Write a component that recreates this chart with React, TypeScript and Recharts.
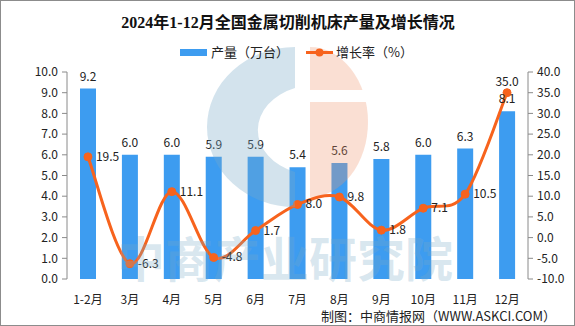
import React from "react";
import { ComposedChart, Bar, Line, XAxis, YAxis, LabelList } from "recharts";

// chart values
const months = ["1-2月", "3月", "4月", "5月", "6月", "7月", "8月", "9月", "10月", "11月", "12月"];
const output = [9.2, 6.0, 6.0, 5.9, 5.9, 5.4, 5.6, 5.8, 6.0, 6.3, 8.1];
const growth = [19.5, -6.3, 11.1, -4.8, 1.7, 8.0, 9.8, 1.8, 7.1, 10.5, 35.0];
const leftTicks = [0, 1, 2, 3, 4, 5, 6, 7, 8, 9, 10];
const rightTicks = [-10, -5, 0, 5, 10, 15, 20, 25, 30, 35, 40];
const edgeTicks = [0, 1, 2, 3, 4, 5, 6, 7, 8, 9, 10, 11];

const data = months.map((month, i) => ({ month, output: output[i], growth: growth[i] }));

const FONT = "'Noto Sans CJK SC', 'Noto Sans', sans-serif";
const AXIS = "#8a8a8a";
const BLUE = "#3d9cf0";
const ORANGE = "#f7631d";

// Excel-like smooth line (uniform Catmull-Rom)
const smoothCurve: any = (context: any) => {
  let pts: number[][] = [];
  return {
    areaStart() {},
    areaEnd() {},
    lineStart() {
      pts = [];
    },
    point(x: number, y: number) {
      pts.push([+x, +y]);
    },
    lineEnd() {
      if (!pts.length) return;
      context.moveTo(pts[0][0], pts[0][1]);
      for (let i = 0; i < pts.length - 1; i++) {
        const p0 = pts[i - 1] || pts[i];
        const p1 = pts[i];
        const p2 = pts[i + 1];
        const p3 = pts[i + 2] || p2;
        context.bezierCurveTo(
          p1[0] + (p2[0] - p0[0]) / 6,
          p1[1] + (p2[1] - p0[1]) / 6,
          p2[0] - (p3[0] - p1[0]) / 6,
          p2[1] - (p3[1] - p1[1]) / 6,
          p2[0],
          p2[1]
        );
      }
    },
  };
};

const GrowthLabel = (props: any) => {
  const { x, y, value, index } = props;
  const last = index === growth.length - 1;
  return (
    <text
      x={last ? x : x + 8}
      y={last ? y - 7 : y + 4}
      textAnchor={last ? "middle" : "start"}
      fontSize={12}
      fontFamily={FONT}
      fill="#222"
    >
      {Number(value).toFixed(1)}
    </text>
  );
};

export default function App() {
  const tickStyle = { fill: "#222", fontSize: 12, fontFamily: FONT };

  return (
    <div style={{ position: "absolute", left: 0, top: 0, width: 575, height: 326, background: "#fff" }}>
      <ComposedChart
        width={575}
        height={326}
        data={data}
        margin={{ top: 72, right: 0, left: 0, bottom: 0 }}
        barSize={16}
      >
        <XAxis
          xAxisId="edge"
          type="number"
          domain={[0, months.length]}
          ticks={edgeTicks}
          allowDataOverflow
          tick={false}
          height={0}
          stroke={AXIS}
          tickSize={5}
          interval={0}
        />
        <XAxis
          xAxisId="cat"
          dataKey="month"
          axisLine={false}
          tickLine={false}
          height={47}
          tick={tickStyle}
          tickMargin={10}
          interval={0}
        />
        <YAxis
          yAxisId="left"
          domain={[0, 10]}
          ticks={leftTicks}
          interval={0}
          width={67}
          stroke={AXIS}
          tick={tickStyle}
          tickFormatter={(v) => Number(v).toFixed(1)}
          tickSize={5}
          tickMargin={4}
        />
        <YAxis
          yAxisId="right"
          orientation="right"
          domain={[-10, 40]}
          ticks={rightTicks}
          interval={0}
          width={47}
          stroke={AXIS}
          tick={tickStyle}
          tickFormatter={(v) => Number(v).toFixed(1)}
          tickSize={5}
          tickMargin={4}
        />
        <Bar xAxisId="cat" yAxisId="left" dataKey="output" fill={BLUE} isAnimationActive={false}>
          <LabelList
            dataKey="output"
            position="top"
            offset={8}
            formatter={(v: any) => Number(v).toFixed(1)}
            style={{ fill: "#222", fontSize: 12, fontFamily: FONT }}
          />
        </Bar>
        <Line
          xAxisId="cat"
          yAxisId="right"
          dataKey="growth"
          type={smoothCurve}
          stroke={ORANGE}
          strokeWidth={3}
          dot={{ r: 4, fill: ORANGE, stroke: ORANGE, strokeWidth: 1 }}
          activeDot={false}
          isAnimationActive={false}
        >
          <LabelList dataKey="growth" content={<GrowthLabel />} />
        </Line>
      </ComposedChart>

      {/* title, legend, source and watermark */}
      <svg
        width={575}
        height={326}
        style={{ position: "absolute", left: 0, top: 0, pointerEvents: "none" }}
      >
        <defs>
          <clipPath id="orangeCut">
            <rect x={300} y={40} width={80} height={50} />
            <rect x={300} y={102} width={80} height={110} />
          </clipPath>
        </defs>
        {/* watermark logo */}
        <path
          fillRule="evenodd"
          fill="rgba(120,170,200,0.33)"
          d="M295 47 A88 80 0 0 0 295 207 L295 172 A58 45 0 0 1 295 88 Z"
        />
        <path
          clipPath="url(#orangeCut)"
          fill="rgba(240,150,110,0.3)"
          d="M310 47 A58 75 0 0 1 310 197 Z"
        />
        <text
          x={117}
          y={277}
          fontSize={48}
          fontWeight="bold"
          fontFamily={FONT}
          fill="rgba(120,170,200,0.28)"
        >
          中商产业研究院
        </text>

        <text
          x={288}
          y={28}
          textAnchor="middle"
          fontSize={16}
          fontWeight="bold"
          fontFamily="'Liberation Serif', 'Noto Sans CJK SC', serif"
          fill="#111"
        >
          2024年1-12月全国金属切削机床产量及增长情况
        </text>

        <rect x={180} y={49} width={27} height={7} fill={BLUE} />
        <text x={211} y={57} fontSize={13} fontFamily={FONT} fill="#222">
          产量（万台）
        </text>
        <line x1={306} y1={52.5} x2={333} y2={52.5} stroke={ORANGE} strokeWidth={3} />
        <circle cx={319.5} cy={52.5} r={4} fill={ORANGE} />
        <text x={336} y={57} fontSize={13} fontFamily={FONT} fill="#222">
          增长率（%）
        </text>

        <text x={556} y={321} textAnchor="end" fontSize={13} fontFamily={FONT} fill="#222">
          制图：中商情报网（WWW.ASKCI.COM）
        </text>
      </svg>

      <div
        style={{
          position: "absolute",
          left: 0,
          top: 0,
          width: 575,
          height: 326,
          border: "1px solid #8c8c8c",
          boxSizing: "border-box",
          pointerEvents: "none",
        }}
      />
    </div>
  );
}
